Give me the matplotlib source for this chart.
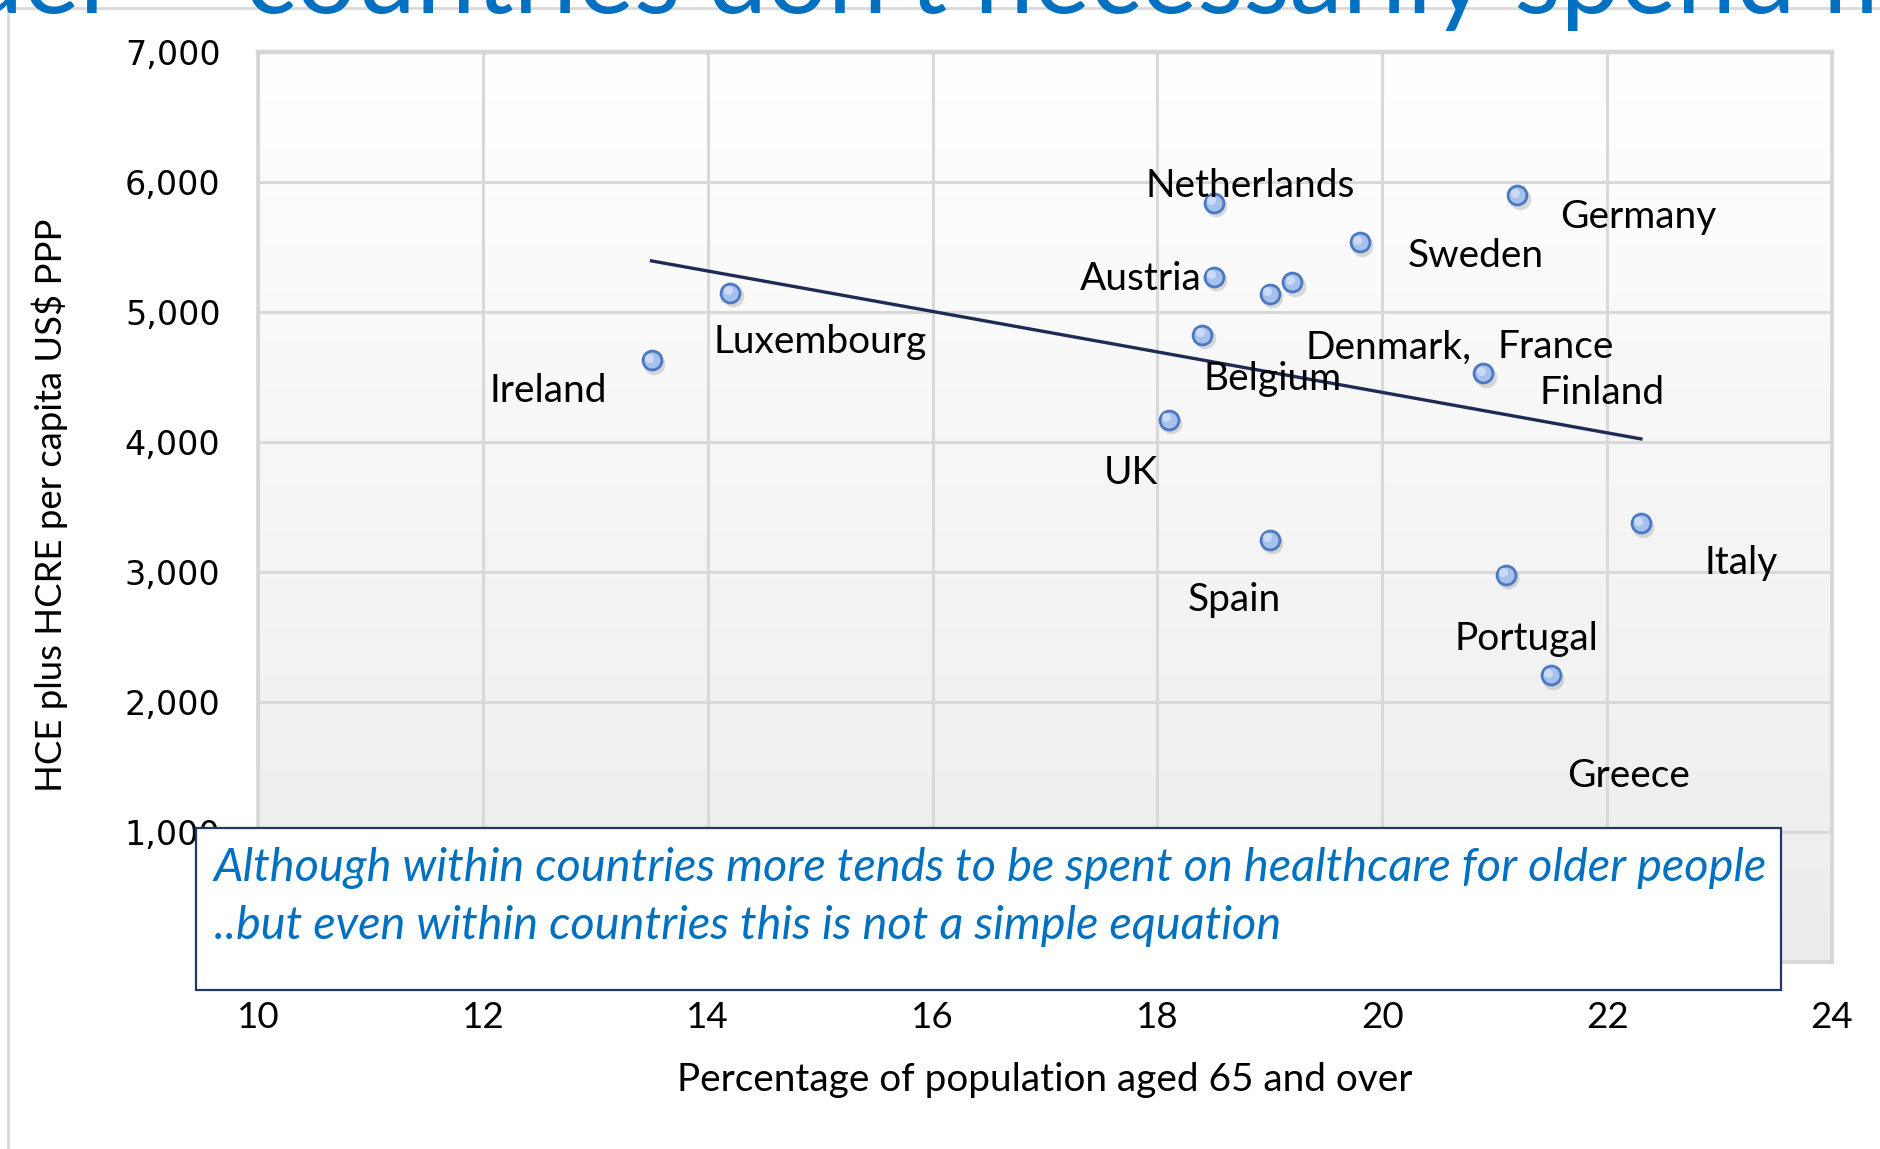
import numpy as np
import matplotlib
matplotlib.use("Agg")
import matplotlib.pyplot as plt
from matplotlib.lines import Line2D
from matplotlib.patches import Rectangle
from matplotlib.colors import LinearSegmentedColormap
import matplotlib.transforms as mtransforms

# ---------------- data ----------------
countries = ["Ireland", "Luxembourg", "Netherlands", "Germany", "Sweden", "Austria",
             "Denmark,", "France", "Belgium", "Finland", "UK", "Spain", "Italy",
             "Portugal", "Greece"]
pct_65 = [13.5, 14.2, 18.5, 21.2, 19.8, 18.5, 19.0, 19.2, 18.4, 20.9, 18.1, 19.0, 22.3, 21.1, 21.5]
spend = [4630, 5150, 5840, 5900, 5535, 5270, 5140, 5230, 4825, 4530, 4170, 3250, 3375, 2980, 2205]
# label offsets from each point, in pixels
label_offsets = [(-103, -31), (90, -49), (37, 17), (121, -22), (116, -14), (-73, -2),
                 (119, -54), (263, -65), (70, -44), (119, -20), (-38, -53), (-36, -61),
                 (100, -40), (20, -64), (78, -101)]
x_ticks = [10, 12, 14, 16, 18, 20, 22, 24]
y_ticks = [0, 1000, 2000, 3000, 4000, 5000, 6000, 7000]

title_left = "Older"
title_right = "countries don't necessarily spend more"
x_label = "Percentage of population aged 65 and over"
y_label = "HCE plus HCRE per capita US$ PPP"
box_lines = ["Although within countries more tends to be spent on healthcare for older people",
             "..but even within countries this is not a simple equation"]

# ---------------- figure ----------------
W, H = 1881, 1149
fig = plt.figure(figsize=(W / 100, H / 100), dpi=100)
fig.patch.set_facecolor("white")
renderer = fig.canvas.get_renderer()


def text_width(s, **kw):
    p = fig.text(0, 0, s, **kw)
    w = p.get_window_extent(renderer).width
    p.remove()
    return w


def fit(t, target_px, horizontal=True):
    bb = t.get_window_extent(renderer)
    cur = bb.width if horizontal else bb.height
    t.set_fontsize(t.get_fontsize() * target_px / cur)


def fx(px):
    return px / W


def fy(py):
    return 1 - py / H


# slide frame lines
fig.add_artist(Line2D([fx(8), fx(8)], [fy(8), 0], color="#d9d9d9", lw=2, transform=fig.transFigure))
fig.add_artist(Line2D([fx(8), 1], [fy(8), fy(8)], color="#d9d9d9", lw=2, transform=fig.transFigure))

L, R, T, B = 258, 1832, 52, 962
ax = fig.add_axes([fx(L), fy(B), fx(R - L), (B - T) / H])
ax.set_xlim(10, 24)
ax.set_ylim(0, 7000)

# background gradient
cmap = LinearSegmentedColormap.from_list("bg", ["#ffffff", "#ececec"])
grad = np.linspace(1, 0, 256).reshape(-1, 1)
ax.imshow(grad, extent=[10, 24, 0, 7000], aspect="auto", cmap=cmap, origin="lower",
          vmin=0, vmax=1, zorder=0)

ax.set_axisbelow(True)
ax.grid(True, color="#d9d9d9", lw=2.2)
for s in ax.spines.values():
    s.set_color("#d6d6d6")
    s.set_linewidth(2.6)
ax.spines["top"].set_linewidth(3.2)

ax.set_xticks(x_ticks)
ax.set_yticks(y_ticks)
ax.set_xticklabels([str(v) for v in x_ticks], fontfamily="Lato", fontsize=26.5)
ax.set_yticklabels([f"{v:,}" for v in y_ticks], fontfamily="DejaVu Sans", fontsize=24)
ax.tick_params(axis="both", length=0)
ax.tick_params(axis="x", pad=28)
ax.tick_params(axis="y", pad=27)

# trend line
coef = np.polyfit(pct_65, spend, 1)
xs = np.array([min(pct_65), max(pct_65)])
ax.plot(xs, np.polyval(coef, xs), color="#1f2b55", lw=2.4, zorder=3)

# point shadows
shadow_tr = ax.transData + mtransforms.ScaledTranslation(0.025, -0.035, fig.dpi_scale_trans)
ax.plot(pct_65, spend, "o", ms=15.5, color="#7f7f7f", alpha=0.28, mew=0, transform=shadow_tr,
        zorder=3, ls="none")
# points
ax.plot(pct_65, spend, "o", ms=13.6, mfc="#a6c1ee", mec="#4a78c2", mew=2.0, zorder=4, ls="none")
hl_tr = ax.transData + mtransforms.ScaledTranslation(-0.025, 0.025, fig.dpi_scale_trans)
ax.plot(pct_65, spend, "o", ms=6.5, color="#d2e0f8", mew=0, alpha=0.85, transform=hl_tr,
        zorder=4, ls="none")

# labels
for name, x, y, (dx, dy) in zip(countries, pct_65, spend, label_offsets):
    ax.annotate(name, (x, y), xytext=(dx, dy), textcoords="offset pixels",
                ha="center", va="center", fontsize=28, fontfamily="Lato", color="black", zorder=5)

# axis titles
xl = fig.text(fx(1045), fy(1080), x_label, ha="center", va="center", fontfamily="Lato", fontsize=26)
fit(xl, 733)
yl = fig.text(fx(50), fy(505), y_label, ha="center", va="center", rotation=90,
              fontfamily="Lato", fontsize=26)
fit(yl, 572, horizontal=False)

# title (cut off at the top of the slide)
tkw = dict(fontfamily="Lato")
tsize = 60 * 1553 / text_width("countries don't necessarily spend", fontsize=60, **tkw)
fig.text(fx(245), fy(13), title_right, ha="left", va="baseline", color="#0070c0",
         fontsize=tsize, **tkw)
fig.text(fx(118), fy(13), title_left, ha="right", va="baseline", color="#0070c0",
         fontsize=tsize, **tkw)

# annotation box
rect = Rectangle((fx(196), fy(990)), fx(1781 - 196), (990 - 828) / H, transform=fig.transFigure,
                 facecolor="white", edgecolor="#1f3864", lw=1.6, zorder=10)
fig.add_artist(rect)
b1 = fig.text(fx(214), fy(868), box_lines[0], ha="left", va="center", color="#0070c0",
              style="italic", fontfamily="Lato", fontsize=28, zorder=11)
fit(b1, 1554)
b2 = fig.text(fx(214), fy(926), box_lines[1], ha="left", va="center", color="#0070c0",
              style="italic", fontfamily="Lato", fontsize=b1.get_fontsize(), zorder=11)

fig.savefig("out.png", dpi=100, facecolor="white")
